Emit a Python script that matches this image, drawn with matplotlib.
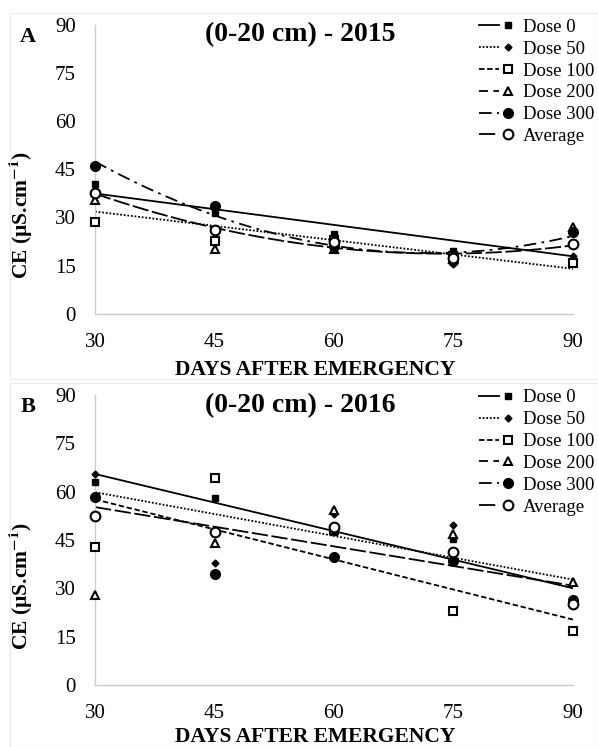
import numpy as np
import matplotlib
matplotlib.use("Agg")
import matplotlib.pyplot as plt
from matplotlib.lines import Line2D
from matplotlib.legend_handler import HandlerTuple
from matplotlib.patches import Rectangle

plt.rcParams['font.family'] = ['Liberation Serif', 'DejaVu Serif']
plt.rcParams['mathtext.fontset'] = 'stix'

days = [30, 45, 60, 75, 90]
series_names = ["Dose 0", "Dose 50", "Dose 100", "Dose 200", "Dose 300", "Average"]

# 2015 values (CE, uS/cm)
y2015_dose0 = [40.5, 31.4, 24.9, 19.5, 22.0]
y2015_dose50 = [37.0, 22.0, 22.0, 15.5, 18.0]
y2015_dose100 = [28.7, 22.7, 23.0, 18.0, 15.8]
y2015_dose200 = [35.5, 20.2, 20.0, 17.0, 27.0]
y2015_dose300 = [46.0, 33.4, 21.0, 16.5, 25.5]
y2015_avg = [37.5, 26.0, 22.2, 17.3, 21.7]

# 2016 values
y2016_dose0 = [63.0, 58.1, 47.4, 45.4, 25.0]
y2016_dose50 = [65.4, 37.8, 53.0, 49.8, 25.5]
y2016_dose100 = [42.8, 64.3, 48.0, 23.0, 16.8]
y2016_dose200 = [28.0, 44.1, 54.2, 46.9, 31.9]
y2016_dose300 = [58.3, 34.5, 39.9, 38.4, 26.5]
y2016_avg = [52.4, 47.4, 49.2, 41.2, 25.0]

# trendline polynomial order per series (None = no trendline drawn)
trend2015 = [1, 1, None, None, 2, 2]
trend2016 = [1, 1, 1, None, None, 1]

markers = [dict(marker='s', ms=5, mfc='black', mec='black'),
           dict(marker='D', ms=3.5, mfc='black', mec='black'),
           dict(marker='s', ms=6, mfc='white', mec='black', mew=1.5),
           dict(marker='^', ms=6, mfc='white', mec='black', mew=1.5),
           dict(marker='o', ms=7, mfc='black', mec='black'),
           dict(marker='o', ms=7, mfc='white', mec='black', mew=1.5)]
linestyles = ['-', (0, (1, 1)), (0, (3, 1.5)), (0, (5, 3)), (0, (7, 3, 1.5, 3)), (0, (9, 2))]

W, H = 598, 747
fig = plt.figure(figsize=(W / 100, H / 100), dpi=100)
for (x0, y0, x1, y1) in [(10, 13, 598, 379), (10, 383, 598, 747)]:
    fig.patches.append(Rectangle((x0 / W, 1 - y1 / H), (x1 - x0) / W, (y1 - y0) / H,
                                 transform=fig.transFigure, fill=False, ec='#ebebeb', lw=0.8))

def panel(rect, data, trends, title, letter, xlab_y):
    ax = fig.add_axes(rect)
    ax.set_xlim(30, 90)
    ax.set_ylim(0, 90)
    ax.set_xticks(days)
    ax.set_yticks([0, 15, 30, 45, 60, 75, 90])
    for s in ['top', 'right']:
        ax.spines[s].set_visible(False)
    for s in ['left', 'bottom']:
        ax.spines[s].set_color('#cccccc')
        ax.spines[s].set_linewidth(1.0)
    ax.tick_params(length=0, labelsize=15)
    ax.tick_params(axis='y', pad=14)
    ax.tick_params(axis='x', pad=14)
    xs = np.array(days, dtype=float)
    xfine = np.linspace(30, 90, 200)
    handles = []
    for i, (vals, order) in enumerate(zip(data, trends)):
        if order is not None:
            coef = np.polyfit(xs, vals, order)
            ax.plot(xfine, np.polyval(coef, xfine), color='black', lw=1.3,
                    linestyle=linestyles[i], zorder=2)
        ax.plot(days, vals, linestyle='none', zorder=3, clip_on=False, **markers[i])
        lh = Line2D([], [], color='black', lw=1.3, linestyle=linestyles[i])
        mh = Line2D([], [], linestyle='none', **markers[i])
        handles.append((lh, mh))
    ax.legend(handles, series_names, handler_map={tuple: HandlerTuple(ndivide=None, pad=0.0)},
              loc='upper right', bbox_to_anchor=(1.045, 1.02), frameon=False, fontsize=13.5,
              handlelength=2.1, handletextpad=0.25, labelspacing=0.25, borderaxespad=0.0,
              borderpad=0.0)
    ax.text(0.43, 0.965, title, transform=ax.transAxes, ha='center', va='center',
            fontsize=20, fontweight='bold')
    ax.set_xlabel("DAYS AFTER EMERGENCY", fontsize=15.5, fontweight='bold')
    ax.set_ylabel("CE (µS.cm$^{\\mathbf{-1}}$)", fontsize=15.5, fontweight='bold')
    ax.yaxis.set_label_coords(-0.125, 0.34)
    ax.xaxis.set_label_coords(0.46, xlab_y)
    fig.text(0.047, rect[1] + rect[3] - 0.016, letter, fontsize=16, fontweight='bold',
             ha='center', va='center')
    return ax

data2015 = [y2015_dose0, y2015_dose50, y2015_dose100, y2015_dose200, y2015_dose300, y2015_avg]
data2016 = [y2016_dose0, y2016_dose50, y2016_dose100, y2016_dose200, y2016_dose300, y2016_avg]

panel([0.159, 0.580, 0.799, 0.387], data2015, trend2015, "(0-20 cm) - 2015", "A", -0.16)
panel([0.159, 0.083, 0.799, 0.388], data2016, trend2016, "(0-20 cm) - 2016", "B", -0.145)

fig.savefig("out.png", dpi=100)
